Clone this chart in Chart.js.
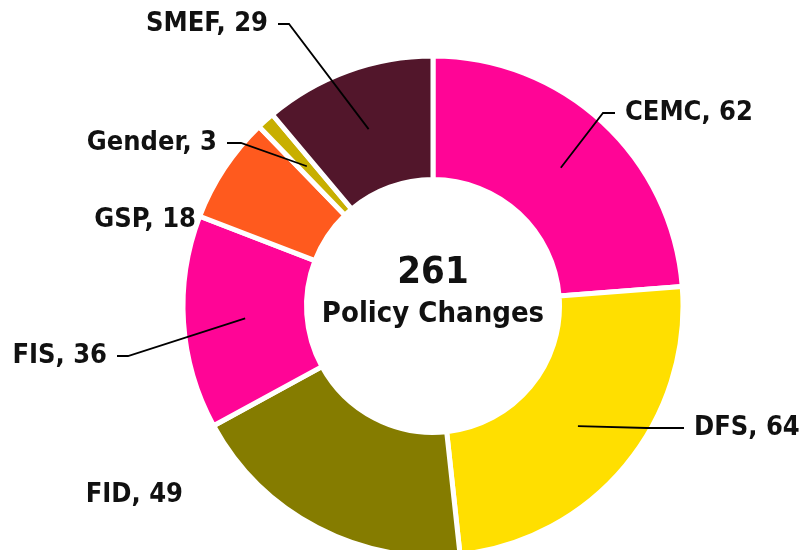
<!DOCTYPE html>
<html>
<head>
<meta charset="utf-8">
<script src="https://cdn.jsdelivr.net/npm/chart.js@4.4.1/dist/chart.umd.min.js"></script>
<style>
  html, body { margin: 0; padding: 0; background: #fff; overflow: hidden; }
</style>
</head>
<body>
<canvas id="policyChart" width="799" height="550"></canvas>
<script>
// policy changes per area
const categories = ["CEMC", "DFS", "FID", "FIS", "GSP", "Gender", "SMEF"];
const changes = [62, 64, 49, 36, 18, 3, 29];
const sliceColors = ["#FF0596", "#FFDF00", "#857C00", "#FF0596", "#FF5A1E", "#C8AF00", "#52162B"];
const totalLabel = "Policy Changes";

const FONT = '"DejaVu Sans Condensed", "DejaVu Sans", sans-serif';

// where each callout text sits (x, middle y), which way it grows,
// and the small horizontal stub before the leader line
const calloutLayout = [
  { x: 625, y: 113, align: "left", stub: 12, line: true },
  { x: 694, y: 428, align: "left", stub: 37, line: true },
  { x: 183, y: 495, align: "right", stub: 0, line: false },
  { x: 107, y: 356, align: "right", stub: 11, line: true },
  { x: 196, y: 220, align: "right", stub: 0, line: false },
  { x: 217, y: 143, align: "right", stub: 14, line: true },
  { x: 268, y: 24, align: "right", stub: 11, line: true },
];

const calloutPlugin = {
  id: "callouts",
  afterDatasetsDraw(chart) {
    const ctx = chart.ctx;
    const arcs = chart.getDatasetMeta(0).data;
    ctx.save();
    ctx.font = "bold 27px " + FONT;
    ctx.fillStyle = "#111";
    ctx.strokeStyle = "#000";
    ctx.lineWidth = 1.8;
    ctx.textBaseline = "middle";
    arcs.forEach((arc, i) => {
      const c = calloutLayout[i];
      ctx.textAlign = c.align;
      ctx.fillText(categories[i] + ", " + changes[i], c.x, c.y);
      if (!c.line) return;
      // leader goes to the middle of the slice
      const p = arc.getCenterPoint();
      const dir = c.align === "left" ? -1 : 1;
      const x0 = c.x + dir * 10;
      const x1 = x0 + dir * c.stub;
      ctx.beginPath();
      ctx.moveTo(x0, c.y);
      ctx.lineTo(x1, c.y);
      ctx.lineTo(p.x, p.y);
      ctx.stroke();
    });

    // total in the hole
    const cx = arcs[0].x, cy = arcs[0].y;
    const total = changes.reduce((a, b) => a + b, 0);
    ctx.textAlign = "center";
    ctx.textBaseline = "alphabetic";
    ctx.font = "bold 38px " + FONT;
    ctx.fillText(String(total), cx, cy - 23);
    ctx.font = "bold 29px " + FONT;
    ctx.fillText(totalLabel, cx, cy + 16);
    ctx.restore();
  },
};

const ctx = document.getElementById("policyChart");
const myChart = new Chart(ctx, {
  type: "doughnut",
  data: {
    labels: categories,
    datasets: [
      {
        data: changes,
        backgroundColor: sliceColors,
        borderColor: "#ffffff",
        borderWidth: 5,
        clip: false,
      },
    ],
  },
  options: {
    responsive: false,
    animation: false,
    radius: 250,
    cutout: "50.6%",
    layout: { padding: { left: 67, top: 62, right: 0, bottom: 0 } },
    plugins: {
      legend: { display: false },
      tooltip: { enabled: false },
    },
  },
  plugins: [calloutPlugin],
});
</script>
</body>
</html>
